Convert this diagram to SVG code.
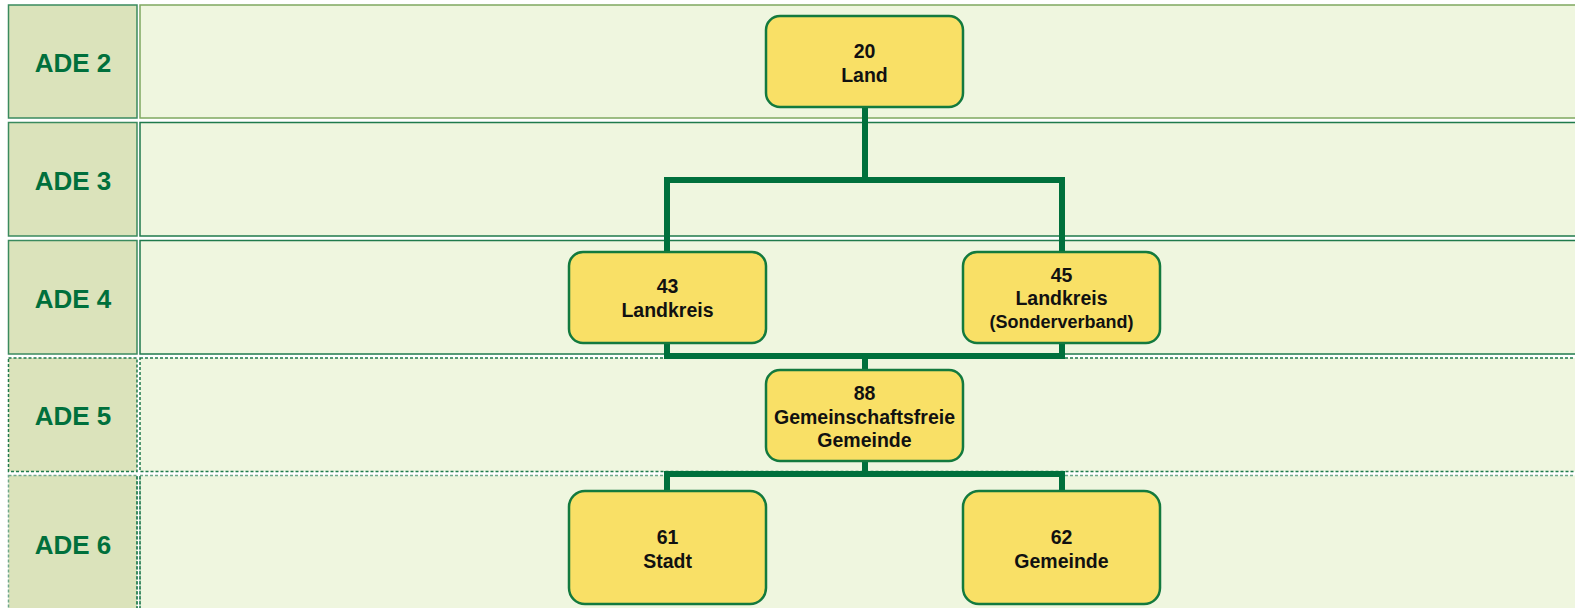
<svg xmlns="http://www.w3.org/2000/svg" width="1575" height="608" viewBox="0 0 1575 608">
<style>
.lab{fill:#dbe3bb;}
.pan{fill:#eff6df;}
.solid{stroke:#3a8a5e;stroke-width:1.5;}
.dash{stroke:#1f7a4c;stroke-width:1.5;stroke-dasharray:3 2;}
.dash2{stroke:#6fa88a;stroke-width:1.5;stroke-dasharray:3 2;}
.ade{font-family:"Liberation Sans",Arial,sans-serif;font-weight:bold;font-size:26px;fill:#00703c;text-anchor:middle;}
.box{fill:#f9e066;stroke:#137a3e;stroke-width:2.5;}
.t{font-family:"Liberation Sans",Arial,sans-serif;font-weight:bold;font-size:19.5px;fill:#111;text-anchor:middle;}
.ts{font-size:18px;}
.con{fill:none;stroke:#00703c;stroke-width:6;stroke-linejoin:miter;stroke-linecap:square;}
</style>
<rect width="1575" height="608" fill="#ffffff"/>
<g id="rows">
<g id="row-ade2">
<rect class="lab solid" x="8.5" y="5" width="128.5" height="113"/>
<rect class="pan" x="140" y="5" width="1440" height="113" style="stroke:#7fa860;stroke-width:1.5"/>
<text class="ade" x="73" y="72">ADE 2</text>
</g>
<g id="row-ade3">
<rect class="lab solid" x="8.5" y="122.5" width="128.5" height="113.5"/>
<rect class="pan" x="140" y="122.5" width="1440" height="113.5" style="stroke:#1f7a4c;stroke-width:1.5"/>
<text class="ade" x="73" y="190">ADE 3</text>
</g>
<g id="row-ade4">
<rect class="lab solid" x="8.5" y="240.5" width="128.5" height="113.5"/>
<rect class="pan" x="140" y="240.5" width="1440" height="113.5" style="stroke:#1f7a4c;stroke-width:1.5"/>
<text class="ade" x="73" y="308">ADE 4</text>
</g>
<g id="row-ade5">
<rect class="lab dash" x="8.5" y="358" width="128.5" height="113.5"/>
<rect class="pan dash" x="140" y="358" width="1440" height="113.5"/>
<text class="ade" x="73" y="425">ADE 5</text>
</g>
<g id="row-ade6">
<rect class="lab dash2" x="8.5" y="475.5" width="128.5" height="140"/>
<rect class="pan dash2" x="140" y="475.5" width="1440" height="140"/>
<line class="dash" x1="137" y1="476" x2="137" y2="608"/>
<line class="dash" x1="140" y1="476" x2="140" y2="608"/>
<text class="ade" x="73" y="554">ADE 6</text>
</g>
</g>
<g id="connectors">
<polyline class="con" points="865,107 865,180 667,180 667,252"/>
<polyline class="con" points="865,180 1062,180 1062,252"/>
<polyline class="con" points="667,343 667,356 1062,356 1062,343"/>
<line class="con" x1="865" y1="356" x2="865" y2="370"/>
<polyline class="con" points="865,461 865,474 667,474 667,491"/>
<polyline class="con" points="865,474 1062,474 1062,491"/>
</g>
<g id="node-20">
<rect class="box" x="766" y="16" width="197" height="91" rx="14"/>
<text class="t" x="864.5" y="58">20</text>
<text class="t" x="864.5" y="81.5">Land</text>
</g>
<g id="node-43">
<rect class="box" x="569" y="252" width="197" height="91" rx="14"/>
<text class="t" x="667.5" y="293">43</text>
<text class="t" x="667.5" y="316.5">Landkreis</text>
</g>
<g id="node-45">
<rect class="box" x="963" y="252" width="197" height="91" rx="14"/>
<text class="t" x="1061.5" y="281.5">45</text>
<text class="t" x="1061.5" y="305">Landkreis</text>
<text class="t ts" x="1061.5" y="327.5">(Sonderverband)</text>
</g>
<g id="node-88">
<rect class="box" x="766" y="370" width="197" height="91" rx="14"/>
<text class="t" x="864.5" y="400">88</text>
<text class="t" x="864.5" y="424">Gemeinschaftsfreie</text>
<text class="t" x="864.5" y="447">Gemeinde</text>
</g>
<g id="node-61">
<rect class="box" x="569" y="491" width="197" height="113" rx="16"/>
<text class="t" x="667.5" y="544">61</text>
<text class="t" x="667.5" y="567.5">Stadt</text>
</g>
<g id="node-62">
<rect class="box" x="963" y="491" width="197" height="113" rx="16"/>
<text class="t" x="1061.5" y="544">62</text>
<text class="t" x="1061.5" y="567.5">Gemeinde</text>
</g>
</svg>
